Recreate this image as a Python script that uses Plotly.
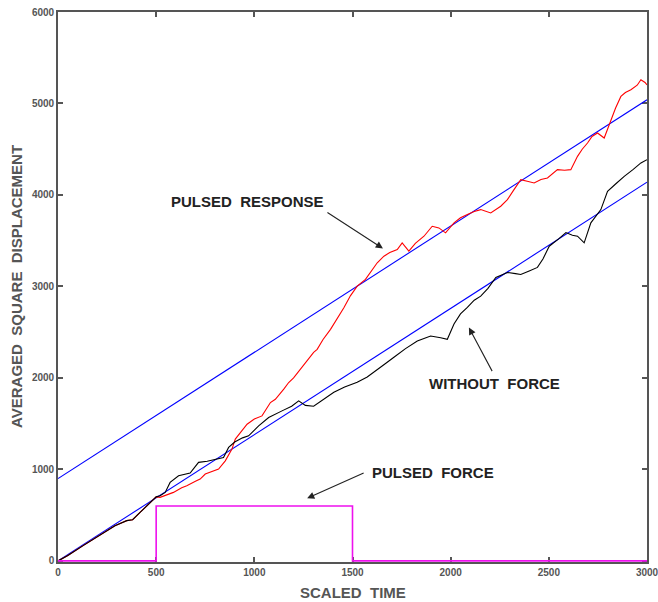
import plotly.graph_objects as go

# Scaled time axis and mean square displacement, unforced run
time_free = [0, 50, 130, 214, 290, 350, 380, 418, 460, 500, 520, 546, 571, 614, 673,
             716, 760, 801, 843, 869, 900, 940, 971, 1022, 1073, 1141, 1190, 1226, 1260,
             1302, 1350, 1405, 1460, 1524, 1575, 1626, 1670, 1711, 1770, 1830, 1870, 1898,
             1949, 1983, 2017, 2050, 2085, 2120, 2153, 2190, 2230, 2289, 2330, 2357, 2400,
             2442, 2470, 2502, 2550, 2587, 2620, 2646, 2680, 2714, 2765, 2799, 2840, 2884,
             2930, 2969, 3000]
msd_free = [0, 60, 170, 285, 385, 440, 450, 530, 620, 700, 713, 749, 858, 931, 960,
            1077, 1090, 1113, 1131, 1240, 1300, 1345, 1367, 1476, 1568, 1640, 1690, 1749, 1700,
            1690, 1760, 1844, 1900, 1953, 2010, 2095, 2160, 2226, 2320, 2404, 2440, 2458,
            2440, 2422, 2590, 2700, 2771, 2850, 2894, 2980, 3098, 3153, 3140, 3131, 3170,
            3208, 3300, 3440, 3520, 3589, 3560, 3549, 3477, 3695, 3840, 4040, 4120, 4204,
            4280, 4350, 4386]

# Pulsed run
time_pulsed = [0, 50, 130, 214, 290, 350, 380, 418, 460, 500, 520, 550, 588, 630, 656,
               700, 724, 750, 775, 818, 852, 886, 903, 935, 963, 1000, 1039, 1082, 1107,
               1150, 1175, 1200, 1235, 1270, 1302, 1320, 1350, 1388, 1420, 1456, 1490, 1524,
               1566, 1600, 1626, 1660, 1690, 1728, 1753, 1787, 1820, 1864, 1906, 1940, 1974,
               2017, 2050, 2085, 2120, 2153, 2204, 2255, 2289, 2320, 2357, 2390, 2425, 2460,
               2493, 2544, 2580, 2612, 2646, 2670, 2697, 2720, 2748, 2782, 2816, 2840, 2867,
               2890, 2918, 2950, 2969, 2990, 3000]
msd_pulsed = [0, 60, 170, 285, 385, 440, 450, 530, 620, 700, 695, 720, 749, 800, 822,
              870, 895, 950, 968, 1004, 1094, 1222, 1331, 1420, 1494, 1550, 1585, 1731, 1767,
              1877, 1950, 2000, 2095, 2200, 2280, 2313, 2420, 2531, 2640, 2768, 2900, 3004,
              3077, 3180, 3259, 3331, 3370, 3404, 3477, 3386, 3470, 3549, 3658, 3640, 3586,
              3695, 3750, 3786, 3820, 3840, 3804, 3877, 3949, 4050, 4168, 4150, 4131, 4170,
              4186, 4277, 4270, 4277, 4422, 4500, 4568, 4640, 4677, 4622, 4822, 4950, 5077,
              5120, 5150, 5200, 5259, 5230, 5204]

# Linear reference lines (endpoints at t = 0 and t = 3000)
fit_t = [0, 3000]
fit_lower = [0, 4140]
fit_upper = [900, 5040]

# Force pulse profile
pulse_t = [0, 500, 500, 1500, 1500, 3000]
pulse_amp = [0, 0, 600, 600, 0, 0]

x_ticks = [0, 500, 1000, 1500, 2000, 2500, 3000]
y_ticks = [0, 1000, 2000, 3000, 4000, 5000, 6000]

FONT = "Liberation Sans"
AXIS_GRAY = "#555555"
TEXT_DARK = "#222222"

fig = go.Figure()
fig.add_trace(go.Scatter(x=fit_t, y=fit_upper, mode="lines",
                         line=dict(color="#0000ff", width=1.1)))
fig.add_trace(go.Scatter(x=fit_t, y=fit_lower, mode="lines",
                         line=dict(color="#0000ff", width=1.1)))
fig.add_trace(go.Scatter(x=time_pulsed, y=msd_pulsed, mode="lines",
                         line=dict(color="#ff0000", width=1.1)))
fig.add_trace(go.Scatter(x=time_free, y=msd_free, mode="lines",
                         line=dict(color="#000000", width=1.1)))
fig.add_trace(go.Scatter(x=pulse_t, y=pulse_amp, mode="lines", cliponaxis=False,
                         line=dict(color="#ee11ee", width=1.6)))

axis_common = dict(
    showline=True, linecolor=AXIS_GRAY, linewidth=1.6, mirror="ticks",
    ticks="inside", ticklen=5, tickwidth=1.5, tickcolor=AXIS_GRAY,
    showgrid=False, zeroline=False, automargin=False, layer="below traces",
    ticklabeloverflow="allow",
    tickfont=dict(family=FONT, size=10, color=AXIS_GRAY, weight="bold"),
)

fig.update_layout(
    width=658, height=602,
    margin=dict(l=58, r=11, t=12, b=40, autoexpand=False),
    paper_bgcolor="white", plot_bgcolor="white",
    showlegend=False,
    xaxis=dict(range=[0, 3000], tickvals=x_ticks, **axis_common),
    yaxis=dict(range=[-12, 6000], tickvals=y_ticks, **axis_common),
)

label_font = dict(family=FONT, size=15, color=TEXT_DARK)
axis_title_font = dict(family=FONT, size=15, color=AXIS_GRAY)
nb = "\u00a0\u00a0"

annotations = [
    # axis titles
    dict(text="<b>SCALED" + nb + "TIME</b>", xref="paper", yref="paper", x=0.5, y=0,
         xanchor="center", yanchor="middle", yshift=-30, showarrow=False,
         font=axis_title_font),
    dict(text="<b>AVERAGED" + nb + "SQUARE" + nb + "DISPLACEMENT</b>", xref="paper",
         yref="paper", x=0, y=0.5, xanchor="center", yanchor="middle", xshift=-42,
         textangle=-90, showarrow=False, font=axis_title_font),
    # curve labels
    dict(text="<b>PULSED" + nb + "RESPONSE</b>", xref="x", yref="y", x=563, y=3924,
         xanchor="left", yanchor="middle", showarrow=False, font=label_font),
    dict(text="<b>WITHOUT" + nb + "FORCE</b>", xref="x", yref="y", x=1881, y=1942,
         xanchor="left", yanchor="middle", showarrow=False, font=label_font),
    dict(text="<b>PULSED" + nb + "FORCE</b>", xref="x", yref="y", x=1588, y=968,
         xanchor="left", yanchor="middle", showarrow=False, font=label_font),
]

arrow_style = dict(text="", showarrow=True, arrowhead=2, arrowsize=1.3, arrowwidth=1.1,
                   arrowcolor=TEXT_DARK, xref="x", yref="y")
annotations += [
    dict(x=1655, y=3415, ax=-57, ay=-37, **arrow_style),
    dict(x=2093, y=2550, ax=24, ay=45, **arrow_style),
    dict(x=1269, y=684, ax=58, ay=-26, **arrow_style),
]

fig.update_layout(annotations=annotations)

fig.write_html("out.html")
